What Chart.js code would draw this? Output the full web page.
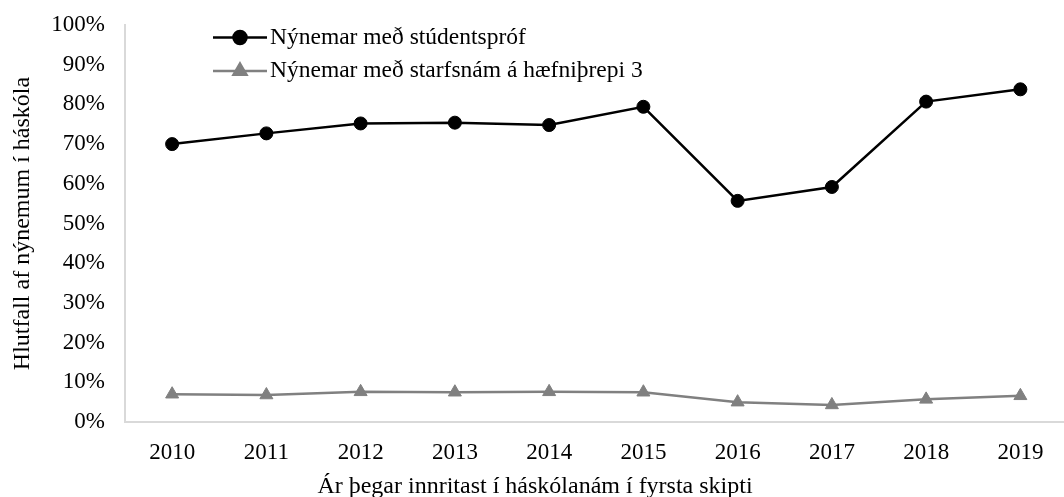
<!DOCTYPE html>
<html>
<head>
<meta charset="utf-8">
<script src="https://cdn.jsdelivr.net/npm/chart.js@4/dist/chart.umd.min.js"></script>
<style>
  html, body { margin: 0; padding: 0; background: #fff; overflow: hidden; }
  #wrap { width: 1076px; height: 497px; }
</style>
</head>
<body>
<div id="wrap"><canvas id="chart" width="1076" height="497"></canvas></div>
<script>
// --- data ---
const years = ["2010", "2011", "2012", "2013", "2014", "2015", "2016", "2017", "2018", "2019"];
const seriesNames = ["Nýnemar með stúdentspróf", "Nýnemar með starfsnám á hæfniþrepi 3"];
const studentsprof = [70.0, 72.7, 75.2, 75.4, 74.8, 79.4, 55.7, 59.2, 80.7, 83.8];
const starfsnam = [7.0, 6.8, 7.6, 7.5, 7.6, 7.5, 5.0, 4.3, 5.7, 6.6];
const yMin = 0, yMax = 100, yStep = 10;

const xTitle = "Ár þegar innritast í háskólanám í fyrsta skipti";
const yTitle = "Hlutfall af nýnemum í háskóla";

const serif = "'Liberation Serif', 'Times New Roman', serif";
Chart.defaults.font.family = serif;
Chart.defaults.color = "#000";

// legend drawn inside the plot, line + marker like the original
const insideLegend = {
  id: "insideLegend",
  afterDatasetsDraw(chart) {
    const ctx = chart.ctx;
    const rows = [
      { y: 37.5, color: "#000", style: "circle", r: 6.5, text: seriesNames[0] },
      { y: 71, color: "#808080", style: "triangle", r: 7.5, text: seriesNames[1] },
    ];
    ctx.save();
    rows.forEach((row) => {
      ctx.strokeStyle = row.color;
      ctx.lineWidth = 2.5;
      ctx.beginPath();
      ctx.moveTo(213, row.y);
      ctx.lineTo(267, row.y);
      ctx.stroke();
      ctx.fillStyle = row.color;
      Chart.helpers.drawPoint(ctx, { pointStyle: row.style, radius: row.r, rotation: 0, borderWidth: 1 }, 240, row.y);
      ctx.fillStyle = "#000";
      ctx.font = "23.5px " + serif;
      ctx.textBaseline = "middle";
      ctx.textAlign = "left";
      ctx.fillText(row.text, 270, row.y);
    });
    // x axis title (offset to the left in the original)
    ctx.font = "24px " + serif;
    ctx.textAlign = "center";
    ctx.fillText(xTitle, 535, 487);
    ctx.restore();
  },
};

const ctx = document.getElementById("chart").getContext("2d");
new Chart(ctx, {
  type: "line",
  data: {
    labels: years,
    datasets: [
      {
        label: seriesNames[0],
        data: studentsprof,
        borderColor: "#000",
        backgroundColor: "#000",
        borderWidth: 2.5,
        pointStyle: "circle",
        pointRadius: 6.5,
        pointBorderWidth: 1,
        tension: 0,
      },
      {
        label: seriesNames[1],
        data: starfsnam,
        borderColor: "#808080",
        backgroundColor: "#808080",
        borderWidth: 2.5,
        pointStyle: "triangle",
        pointRadius: 7.5,
        pointBorderWidth: 1,
        tension: 0,
      },
    ],
  },
  options: {
    responsive: false,
    animation: false,
    layout: { padding: { top: 25, right: 0, bottom: 0, left: 0 } },
    plugins: {
      legend: { display: false },
      tooltip: { enabled: false },
    },
    scales: {
      x: {
        offset: true,
        grid: { drawOnChartArea: false, drawTicks: false },
        border: { color: "#d9d9d9", width: 2 },
        ticks: { font: { size: 23 }, padding: 17, maxRotation: 0 },
        afterFit: (s) => { s.height = 75; },
      },
      y: {
        min: yMin,
        max: yMax,
        grid: { drawOnChartArea: false, drawTicks: false },
        border: { color: "#d9d9d9", width: 2 },
        ticks: {
          stepSize: yStep,
          font: { size: 23 },
          padding: 20,
          callback: (v) => v + "%",
        },
        title: { display: true, text: yTitle, font: { size: 24 }, padding: { top: 8, bottom: 0 } },
        afterFit: (s) => {
          s.width = 125;
          s.paddingTop = 0;
          s.paddingBottom = 0;
        },
      },
    },
  },
  plugins: [insideLegend],
});
</script>
</body>
</html>
